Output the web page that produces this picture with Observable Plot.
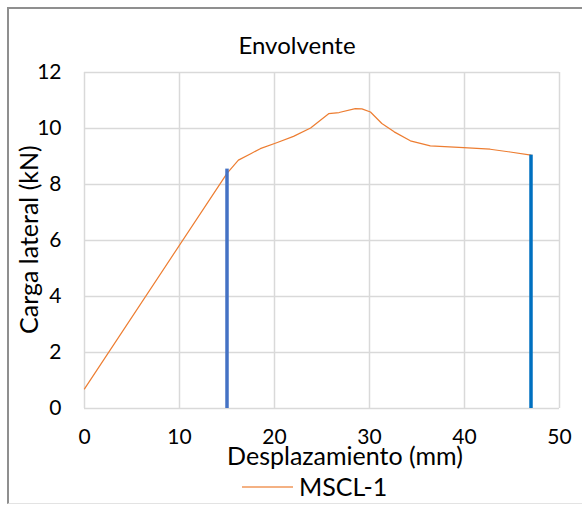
<!DOCTYPE html>
<html>
<head>
<meta charset="utf-8">
<script src="https://cdn.jsdelivr.net/npm/d3@7"></script>
<script src="https://cdn.jsdelivr.net/npm/@observablehq/plot@0.6"></script>
<style>
  html, body { margin: 0; padding: 0; background: #fff; }
  #wrap { position: relative; width: 582px; height: 506px; overflow: hidden; font-family: Lato, "Open Sans", sans-serif; color: #000; }
  #frame { position: absolute; left: 7px; top: 7px; width: 620px; height: 497px; border-left: 2px solid #8f8f8f; border-top: 2px solid #8f8f8f; border-bottom: 1px solid #e3e3e3; box-sizing: border-box; }
  #chart { position: absolute; left: 0; top: 0; }
  .lbl { position: absolute; white-space: nowrap; line-height: 1; }
  #title { left: 0; width: 594px; top: 33px; text-align: center; font-size: 24px; }
  #xlabel { left: 0; width: 690px; top: 443px; text-align: center; font-size: 25px; }
  #ylabel { left: 16px; top: 240px; font-size: 25px; transform: rotate(-90deg); transform-origin: 0 0; }
  #legend { left: 242px; top: 474px; font-size: 25px; display: flex; align-items: center; }
  #legend .sw { display: inline-block; width: 51px; height: 0; border-top: 2px solid #F4B183; margin-right: 6px; }
</style>
</head>
<body>
<div id="wrap">
  <div id="frame"></div>
  <div id="chart"></div>
  <div class="lbl" id="title">Envolvente</div>
  <div class="lbl" id="xlabel">Desplazamiento (mm)</div>
  <div class="lbl" id="ylabel"><span id="ytxt">Carga lateral (kN)</span></div>
  <div class="lbl" id="legend"><span class="sw"></span><span>MSCL-1</span></div>
</div>
<script>
// Envelope curve (displacement mm, lateral load kN)
const displacement = [0, 15.0, 16.2, 17.5, 18.5, 20.3, 22.0, 23.8, 25.7, 26.8, 28.5, 29.2, 30.1, 31.3, 32.6, 34.3, 36.4, 39.9, 42.7, 44.8, 47.0];
const load =         [0.7, 8.40, 8.87, 9.10, 9.28, 9.50, 9.72, 10.02, 10.53, 10.57, 10.71, 10.70, 10.59, 10.18, 9.88, 9.56, 9.38, 9.32, 9.26, 9.16, 9.05];
// Vertical markers
const markerX = [15, 47];
const markerTop = [8.55, 9.05];
const markerColor = ["#4472C4", "#0070C0"];
const xTicks = [0, 10, 20, 30, 40, 50];
const yTicks = [0, 2, 4, 6, 8, 10, 12];

const curve = displacement.map((d, i) => ({x: d, y: load[i]}));
const markers = markerX.map((d, i) => ({x: d, top: markerTop[i], c: markerColor[i]}));

const plot = Plot.plot({
  width: 582,
  height: 506,
  marginLeft: 84,
  marginRight: 23,
  marginTop: 72,
  marginBottom: 98,
  style: {fontFamily: "Lato, 'Open Sans', sans-serif", fontSize: "21px", color: "#000", background: "transparent", overflow: "visible"},
  x: {domain: [0, 50], ticks: xTicks, label: null},
  y: {domain: [0, 12], ticks: yTicks, label: null},
  marks: [
    Plot.gridX(xTicks, {stroke: "#d9d9d9", strokeOpacity: 1, strokeWidth: 1.5}),
    Plot.gridY(yTicks, {stroke: "#d9d9d9", strokeOpacity: 1, strokeWidth: 1.5}),
    Plot.axisX(xTicks, {tickSize: 0, tickPadding: 21, fontSize: 21, fill: "#000"}),
    Plot.axisY(yTicks, {tickSize: 0, tickPadding: 23, fontSize: 21, fill: "#000"}),
    Plot.line(curve, {x: "x", y: "y", stroke: "#ED7D31", strokeWidth: 1.2, curve: "linear"}),
    Plot.ruleX(markers, {x: "x", y1: 0, y2: "top", stroke: "c", strokeWidth: 3.5})
  ]
});
document.getElementById("chart").appendChild(plot);

// center the rotated y label around the plot's vertical middle
const yl = document.getElementById("ylabel");
const w = yl.getBoundingClientRect().height;
yl.style.top = (240 + w / 2) + "px";
</script>
</body>
</html>
